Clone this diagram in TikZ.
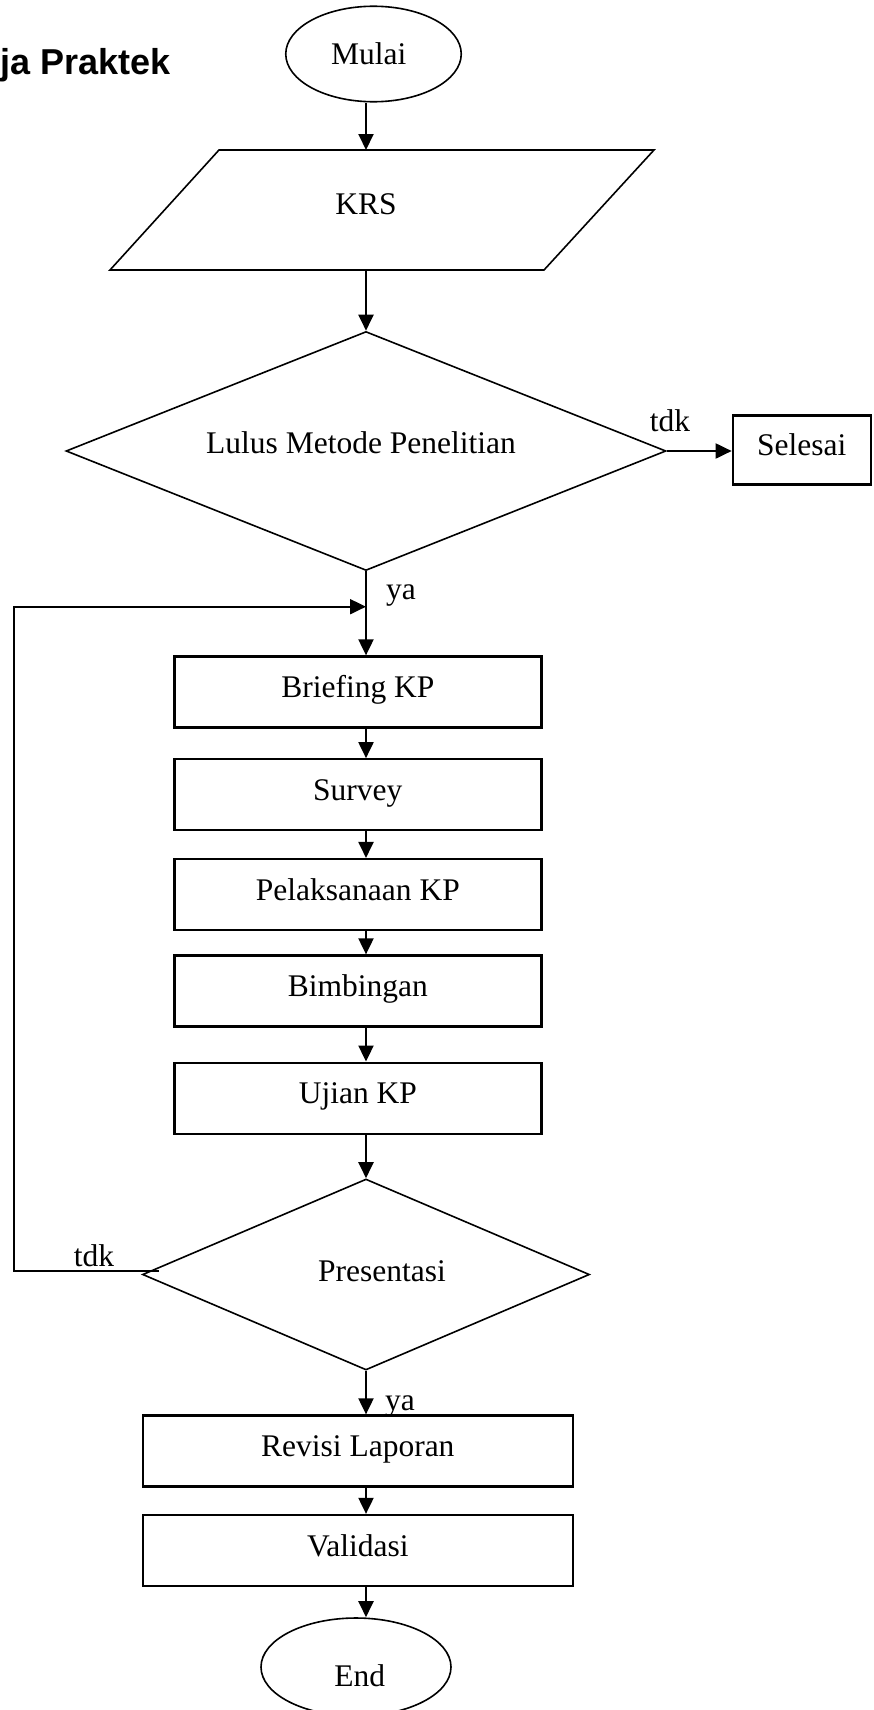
\documentclass[tikz,border=0pt]{standalone}
\usepackage{fontspec}
\setmainfont{Liberation Serif}
\newfontfamily\titlefont{Liberation Sans}
\usetikzlibrary{shapes.geometric,arrows.meta}
\begin{document}
\begin{tikzpicture}[x=1pt,y=-1pt,
  txt/.style={font=\fontsize{31.5}{36}\selectfont, inner sep=0pt, anchor=base},
  procbox/.style={draw, line width=2.3pt, rectangle, minimum width=367pt, minimum height=71pt,
    inner sep=0pt, font=\fontsize{31.5}{36}\selectfont, text height=20pt, text depth=9pt},
  decis/.style={draw, diamond, line width=1.6pt, inner sep=0pt},
  term/.style={draw, ellipse, line width=1.6pt, inner sep=0pt},
  arr/.style={line width=2pt, -{Triangle[length=16pt,width=15pt]}}
]
\useasboundingbox (0,0) rectangle (874,1710);
\fill[white] (0,0) rectangle (874,1710);

% title (partly cut off at left)
\node[anchor=base east, inner sep=0pt, font=\titlefont\bfseries\fontsize{36}{40}\selectfont] (title) at (171,74.6) {ja Praktek};

% axis helpers
\coordinate (ax) at (366,0);
\coordinate (leftx) at (13.8,0);

% Mulai
\node[term, minimum width=175.5pt, minimum height=95.5pt] (mulai) at (373.5,54) {};
\node[txt] (mulaitxt) at (368.7,65) {Mulai};

% KRS parallelogram
\coordinate (k1) at (219,150);
\coordinate (k2) at (654,150);
\coordinate (k3) at (544,270);
\coordinate (k4) at (110,270);
\coordinate (ktop) at (366,150);
\coordinate (kbot) at (366,270);
\draw[line width=1.6pt] (k1) -- (k2) -- (k3) -- (k4) -- cycle;
\node[txt] (krs) at (366,214.3) {KRS};

% Decision 1
\node[decis, minimum width=600pt, minimum height=239pt] (l1) at (366,451) {};
\node[txt] (l1txt) at (361,453.5) {Lulus Metode Penelitian};
\node[txt] (tdka) at (670,431) {tdk};

% Selesai
\node[procbox, minimum width=138pt, minimum height=69pt] (selesai) at (801.8,450) {Selesai};

\node[txt] (yaa) at (401,599.7) {ya};
\coordinate (join) at (366,606.7);

% process boxes
\node[procbox] (brief) at (357.85,692) {Briefing KP};
\node[procbox] (survey) at (357.85,794.8) {Survey};
\node[procbox] (pelak) at (357.85,894.6) {Pelaksanaan KP};
\node[procbox] (bimb) at (357.85,991) {Bimbingan};
\node[procbox] (ujian) at (357.85,1098.2) {Ujian KP};

% Decision 2
\node[decis, minimum width=447pt, minimum height=191pt] (p2) at (366,1274.5) {};
\node[txt] (p2txt) at (382,1281.4) {Presentasi};
\node[txt] (tdkb) at (94,1266) {tdk};
\coordinate (fb) at (159,1270.7);
\node[txt] (yab) at (400,1410.4) {ya};

\node[procbox, minimum width=430pt] (revisi) at (357.8,1451) {Revisi Laporan};
\node[procbox, minimum width=430pt] (valid) at (357.8,1550.5) {Validasi};

% End
\node[term, minimum width=190pt, minimum height=98pt] (endn) at (356,1667) {};
\node[txt] (endtxt) at (359.7,1686) {End};

% connectors
\draw[arr] (mulai.south -| ax) -- (ktop);
\draw[arr] (kbot) -- (l1.north);
\draw[arr] (l1.east) -- (l1.east -| selesai.west);
\draw[arr] (l1.south) -- (brief.north -| ax);
\draw[arr] (fb) -- (fb -| leftx) |- (join);
\draw[arr] (brief.south -| ax) -- (survey.north -| ax);
\draw[arr] (survey.south -| ax) -- (pelak.north -| ax);
\draw[arr] (pelak.south -| ax) -- (bimb.north -| ax);
\draw[arr] (bimb.south -| ax) -- (ujian.north -| ax);
\draw[arr] (ujian.south -| ax) -- (p2.north);
\draw[arr] (p2.south) -- (revisi.north -| ax);
\draw[arr] (revisi.south -| ax) -- (valid.north -| ax);
\draw[arr] (valid.south -| ax) -- (endn.north -| ax);
\end{tikzpicture}
\end{document}
